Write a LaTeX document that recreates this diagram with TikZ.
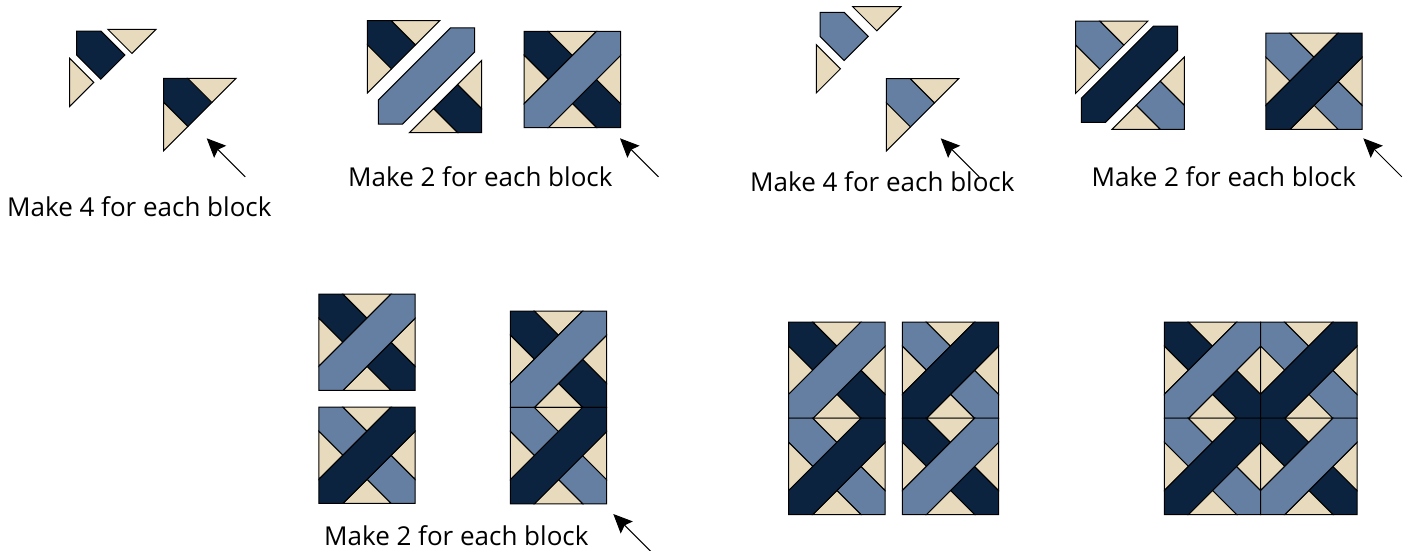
\documentclass[tikz,border=0pt]{standalone}
\usepackage{fontspec}
\setmainfont{Open Sans}
\usepackage{xcolor}
\usepackage{tikz}
\usetikzlibrary{arrows.meta}
\definecolor{navy}{HTML}{0C2340}
\definecolor{steel}{HTML}{647FA1}
\definecolor{sand}{HTML}{E8DABD}
\tikzset{
  patch/.style={draw=black, line width=1pt, x=24.1pt, y=-24.1pt},
  note/.style={anchor=base west, inner sep=0pt, font=\fontsize{26}{30}\selectfont},
  arrow/.style={-{Stealth[length=19pt, width=17pt, inset=3pt]}, line width=1pt, draw=black},
  pics/kite/.style={code={\draw[patch, fill=#1] (0,0) -- (1,0) -- (2,1) -- (1,2) -- (0,1) -- cycle;}},
  pics/kiteb/.style={code={\draw[patch, fill=#1] (4,4) -- (3,4) -- (2,3) -- (3,2) -- (4,3) -- cycle;}},
  pics/tritop/.style={code={\draw[patch, fill=sand] (1,0) -- (3,0) -- (2,1) -- cycle;}},
  pics/trileft/.style={code={\draw[patch, fill=sand] (0,1) -- (1,2) -- (0,3) -- cycle;}},
  pics/tribot/.style={code={\draw[patch, fill=sand] (1,4) -- (3,4) -- (2,3) -- cycle;}},
  pics/triright/.style={code={\draw[patch, fill=sand] (4,1) -- (4,3) -- (3,2) -- cycle;}},
  pics/strip/.style={code={\draw[patch, fill=#1] (3,0) -- (4,0) -- (4,1) -- (1,4) -- (0,4) -- (0,3) -- cycle;}},
  pics/wedge/.style={code={\pic {kite=#1}; \pic {tritop}; \pic {trileft};}},
  pics/wedgeb/.style={code={\pic {kiteb=#1}; \pic {tribot}; \pic {triright};}},
  pics/block/.style 2 args={code={\pic {wedge=#1}; \pic {wedgeb=#1}; \pic {strip=#2};}}
}
\begin{document}
\begin{tikzpicture}[x=1pt, y=-1pt]
  \useasboundingbox (0,0) rectangle (1406,550);

  % navy units
  \pic at (76.7,31) {kite=navy};
  \pic at (83.7,29.3) {tritop};
  \pic at (69.7,34.2) {trileft};
  \pic at (163.7,78.3) {wedge=navy};

  \pic at (367.3,20.7) {wedge=navy};
  \pic at (378.3,27.8) {strip=steel};
  \pic at (385.3,36.3) {wedgeb=navy};
  \pic at (524.2,31.3) {block={navy}{steel}};

  % steel units
  \pic at (820,12.3) {kite=steel};
  \pic at (828.6,6.7) {tritop};
  \pic at (816.3,20.6) {trileft};
  \pic at (886.3,78.7) {wedge=steel};

  \pic at (1075.7,21) {wedge=steel};
  \pic at (1081.3,26) {strip=navy};
  \pic at (1087.9,32.9) {wedgeb=steel};
  \pic at (1265.8,33) {block={steel}{navy}};

  % pairs
  \pic at (318.8,294) {block={navy}{steel}};
  \pic at (318.8,407) {block={steel}{navy}};

  \pic at (510.3,311) {block={navy}{steel}};
  \pic at (510.3,407.4) {block={steel}{navy}};

  \pic at (788.7,322) {block={navy}{steel}};
  \pic at (788.7,418.2) {block={steel}{navy}};
  \pic at (902.3,322) {block={steel}{navy}};
  \pic at (902.3,418.2) {block={navy}{steel}};

  \pic at (1164.3,322) {block={navy}{steel}};
  \pic at (1164.3,418.2) {block={steel}{navy}};
  \pic at (1260.6,322) {block={steel}{navy}};
  \pic at (1260.6,418.2) {block={navy}{steel}};

  \node[note] (makea) at (7,216) {Make 4 for each block};
  \node[note] (makeb) at (348,186) {Make 2 for each block};
  \node[note] (makec) at (750,191) {Make 4 for each block};
  \node[note] (maked) at (1091.5,186) {Make 2 for each block};
  \node[note] (makee) at (324,545) {Make 2 for each block};

  \foreach \x/\y [count=\n] in {206.7/138.3, 620/138.3, 940.7/138.3, 1363.3/138.3, 613.3/514} {
    \coordinate (tip\n) at (\x,\y);
    \coordinate (tail\n) at (\x+38.5,\y+38.5);
    \draw[arrow] (tail\n) -- (tip\n);
  }
\end{tikzpicture}
\end{document}
